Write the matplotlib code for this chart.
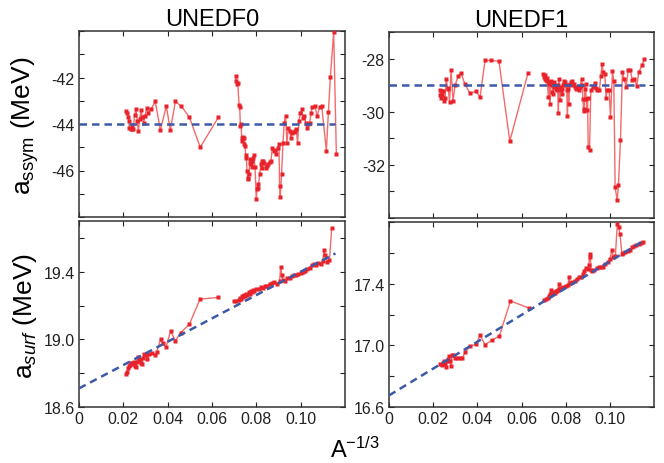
import numpy as np
import matplotlib
matplotlib.use('Agg')
import matplotlib.pyplot as plt
from matplotlib.ticker import FixedLocator, FixedFormatter

plt.rcParams['font.family'] = ['Liberation Sans', 'DejaVu Sans']
plt.rcParams['mathtext.fontset'] = 'custom'
plt.rcParams['mathtext.rm'] = 'Liberation Sans'
plt.rcParams['mathtext.it'] = 'Liberation Sans:italic'

nan = np.nan

# a_ssym, UNEDF0 (two chains, split by nan)
x_ssym0 = [0.0212, 0.0218, 0.0223, 0.0226, 0.0226, 0.0233, 0.0238, 0.0241, 0.0245,
           0.0251, 0.0257, 0.0263, 0.0268, 0.0274, 0.0280, 0.0286, 0.0292, 0.0298,
           0.0305, 0.0313, 0.0325, 0.0344, 0.0367, 0.0394, 0.0412, 0.0435, 0.0462,
           0.0498, 0.0547, 0.0629, nan,
           0.0707, 0.0710, 0.0713, 0.0716, 0.0722, 0.0725, 0.0728, 0.0731, 0.0734,
           0.0737, 0.0740, 0.0743, 0.0746, 0.0749, 0.0752, 0.0755, 0.0758, 0.0761,
           0.0764, 0.0767, 0.0770, 0.0773, 0.0776, 0.0779, 0.0782, 0.0785, 0.0788,
           0.0794, 0.0800, 0.0803, 0.0806, 0.0809, 0.0815, 0.0821, 0.0824, 0.0827,
           0.0830, 0.0836, 0.0842, 0.0848, 0.0854, 0.0860, 0.0866, 0.0872, 0.0878,
           0.0884, 0.0890, 0.0896, 0.0902, 0.0905, 0.0908, 0.0914, 0.0920, 0.0926,
           0.0932, 0.0938, 0.0944, 0.0950, 0.0956, 0.0962, 0.0968, 0.0974, 0.0980,
           0.0986, 0.0992, 0.0999, 0.1005, 0.1011, 0.1017, 0.1023, 0.1029, 0.1035,
           0.1041, 0.1047, 0.1053, 0.1065, 0.1074, 0.1086, 0.1095, 0.1116, 0.1125,
           0.1134, 0.1149, 0.1161]
ssym0 = [-43.44, -43.54, -43.70, -43.87, -44.19, -44.23, -44.20, -44.04, -44.21,
         -43.61, -43.37, -43.87, -44.30, -43.80, -43.41, -43.70, -43.94, -43.66,
         -43.33, -43.51, -43.37, -43.03, -44.26, -43.24, -44.26, -43.03, -43.24,
         -43.71, -45.00, -43.71, nan,
         -42.15, -41.94, -42.29, -42.22, -43.18, -43.27, -44.09, -43.99, -44.59,
         -44.73, -44.56, -44.87, -44.62, -44.95, -45.33, -45.48, -46.02, -46.31,
         -46.38, -46.16, -45.66, -45.52, -45.73, -45.59, -45.85, -45.45, -45.33,
         -45.85, -47.24, -46.81, -46.60, -46.74, -46.16, -45.73, -45.59, -45.88,
         -45.59, -45.66, -45.88, -45.81, -45.71, -45.62, -45.59, -45.02, -45.16,
         -45.13, -45.28, -45.05, -44.85, -46.67, -47.14, -46.16, -44.83, -43.94,
         -43.66, -44.80, -44.16, -44.30, -44.59, -44.37, -44.33, -44.30, -44.23,
         -44.80, -43.87, -43.51, -43.37, -43.76, -43.66, -43.94, -44.16, -44.01,
         -43.94, -43.51, -43.27, -43.23, -43.66, -43.27, -43.23, -45.16, -43.50,
         -41.98, -40.03, -45.30]

# a_ssym, UNEDF1
x_ssym1 = [0.0230, 0.0233, 0.0236, 0.0239, 0.0242, 0.0245, 0.0250, 0.0254, 0.0259,
           0.0265, 0.0269, 0.0274, 0.0281, 0.0290, 0.0299, 0.0313, 0.0326, 0.0344,
           0.0367, 0.0394, 0.0412, 0.0435, 0.0462, 0.0498, 0.0547, 0.0629, nan,
           0.0699, 0.0702, 0.0705, 0.0708, 0.0711, 0.0714, 0.0717, 0.0722, 0.0725,
           0.0728, 0.0731, 0.0734, 0.0737, 0.0740, 0.0743, 0.0746, 0.0749, 0.0752,
           0.0755, 0.0758, 0.0761, 0.0764, 0.0767, 0.0770, 0.0773, 0.0776, 0.0779,
           0.0782, 0.0785, 0.0788, 0.0791, 0.0794, 0.0797, 0.0800, 0.0805, 0.0808,
           0.0811, 0.0814, 0.0817, 0.0820, 0.0823, 0.0827, 0.0832, 0.0836, 0.0842,
           0.0848, 0.0854, 0.0860, 0.0866, 0.0872, 0.0875, 0.0878, 0.0881, 0.0884,
           0.0887, 0.0890, 0.0893, 0.0896, 0.0899, 0.0902, 0.0908, 0.0914, 0.0923,
           0.0932, 0.0938, 0.0944, 0.0953, 0.0959, 0.0965, 0.0970, 0.0977, 0.0983,
           0.0988, 0.0997, 0.1003, 0.1012, 0.1018, 0.1024, 0.1033, 0.1039, 0.1048,
           0.1057, 0.1065, 0.1074, 0.1083, 0.1093, 0.1101, 0.1111, 0.1122, 0.1131,
           0.1146, 0.1156]
ssym1 = [-29.20, -29.38, -29.47, -29.23, -29.36, -29.23, -29.61, -29.48, -28.76,
         -29.11, -29.13, -29.63, -28.44, -29.61, -29.01, -28.67, -28.54, -28.97,
         -29.31, -29.23, -29.46, -28.07, -28.07, -28.10, -31.11, -28.56, nan,
         -28.57, -28.69, -28.78, -28.63, -28.79, -28.73, -28.86, -29.45, -28.94,
         -29.70, -28.88, -28.86, -29.01, -29.26, -29.32, -28.88, -29.07, -28.98,
         -29.13, -29.07, -29.20, -28.98, -30.05, -28.78, -29.57, -29.07, -29.20,
         -29.13, -29.32, -29.01, -28.86, -28.94, -28.88, -29.01, -29.20, -30.17,
         -29.13, -29.70, -29.01, -28.94, -28.88, -28.86, -29.01, -28.94, -29.07,
         -29.13, -29.07, -29.17, -29.07, -28.76, -28.98, -29.53, -29.91, -29.99,
         -29.13, -28.94, -29.51, -29.92, -29.48, -31.33, -31.45, -29.20, -29.07,
         -28.91, -29.11, -29.20, -29.20, -28.66, -28.22, -28.51, -28.57, -29.47,
         -29.20, -29.20, -30.21, -28.48, -28.86, -32.83, -33.34, -32.77, -31.08,
         -28.51, -28.76, -29.07, -28.44, -28.42, -28.79, -28.76, -29.03, -28.51,
         -28.25, -28.03]

# a_surf, UNEDF0
x_surf0 = [0.0213, 0.0218, 0.0222, 0.0226, 0.0230, 0.0234, 0.0239, 0.0243, 0.0248,
           0.0252, 0.0257, 0.0261, 0.0266, 0.0270, 0.0275, 0.0279, 0.0284, 0.0288,
           0.0294, 0.0302, 0.0309, 0.0318, 0.0329, 0.0344, 0.0351, 0.0368, 0.0377,
           0.0393, 0.0413, 0.0435, 0.0459, 0.0498, 0.0546, 0.0628, nan,
           0.0700, 0.0710, 0.0720, 0.0725, 0.0730, 0.0735, 0.0740, 0.0745, 0.0750,
           0.0755, 0.0760, 0.0765, 0.0770, 0.0775, 0.0780, 0.0785, 0.0790, 0.0800,
           0.0810, 0.0820, 0.0830, 0.0840, 0.0850, 0.0860, 0.0870, 0.0880, 0.0895,
           0.0905, 0.0910, 0.0915, 0.0920, 0.0930, 0.0940, 0.0950, 0.0960, 0.0970,
           0.0980, 0.0990, 0.1000, 0.1010, 0.1020, 0.1030, 0.1040, 0.1050, 0.1060,
           0.1070, 0.1080, 0.1090, 0.1100, 0.1105, 0.1110, 0.1120, 0.1130, 0.1140]
surf0 = [18.794, 18.808, 18.828, 18.844, 18.851, 18.859, 18.863, 18.857, 18.867,
         18.844, 18.838, 18.867, 18.897, 18.877, 18.883, 18.861, 18.857, 18.887,
         18.911, 18.907, 18.881, 18.911, 18.917, 18.907, 18.927, 19.000, 18.976,
         18.956, 19.049, 18.992, 19.040, 19.089, 19.238, 19.248, nan,
         19.225, 19.228, 19.235, 19.245, 19.240, 19.255, 19.250, 19.262, 19.255,
         19.270, 19.262, 19.278, 19.270, 19.285, 19.278, 19.292, 19.285, 19.300,
         19.295, 19.310, 19.305, 19.318, 19.315, 19.330, 19.335, 19.338, 19.330,
         19.345, 19.430, 19.380, 19.350, 19.345, 19.360, 19.365, 19.372, 19.380,
         19.378, 19.385, 19.390, 19.400, 19.405, 19.415, 19.425, 19.440, 19.445,
         19.442, 19.450, 19.448, 19.465, 19.530, 19.500, 19.460, 19.470, 19.660]

# a_surf, UNEDF1
x_surf1 = [0.0231, 0.0239, 0.0246, 0.0251, 0.0255, 0.0258, 0.0263, 0.0267, 0.0272,
           0.0276, 0.0281, 0.0285, 0.0291, 0.0299, 0.0309, 0.0322, 0.0332, 0.0346,
           0.0367, 0.0394, 0.0412, 0.0435, 0.0465, 0.0500, 0.0550, 0.0633, nan,
           0.0700, 0.0710, 0.0720, 0.0725, 0.0730, 0.0732, 0.0735, 0.0740, 0.0745,
           0.0750, 0.0755, 0.0760, 0.0765, 0.0770, 0.0772, 0.0780, 0.0790, 0.0800,
           0.0810, 0.0815, 0.0820, 0.0830, 0.0840, 0.0850, 0.0860, 0.0870, 0.0880,
           0.0885, 0.0890, 0.0900, 0.0905, 0.0908, 0.0912, 0.0915, 0.0920, 0.0930,
           0.0940, 0.0950, 0.0960, 0.0970, 0.0980, 0.0990, 0.1000, 0.1010, 0.1015,
           0.1025, 0.1034, 0.1040, 0.1046, 0.1055, 0.1060, 0.1070, 0.1080, 0.1090,
           0.1100, 0.1110, 0.1120, 0.1130, 0.1140, 0.1150]
surf1 = [16.881, 16.875, 16.886, 16.896, 16.881, 16.860, 16.896, 16.909, 16.931,
         16.896, 16.866, 16.935, 16.940, 16.920, 16.918, 16.918, 16.920, 16.957,
         16.996, 17.006, 17.065, 17.005, 17.032, 17.061, 17.288, 17.242, nan,
         17.295, 17.300, 17.310, 17.320, 17.330, 17.360, 17.325, 17.335, 17.345,
         17.340, 17.350, 17.355, 17.360, 17.400, 17.365, 17.370, 17.378, 17.385,
         17.392, 17.440, 17.405, 17.410, 17.420, 17.430, 17.440, 17.445, 17.460,
         17.480, 17.500, 17.495, 17.520, 17.590, 17.570, 17.490, 17.480, 17.490,
         17.500, 17.508, 17.505, 17.510, 17.525, 17.540, 17.560, 17.620, 17.570,
         17.580, 17.790, 17.770, 17.720, 17.590, 17.600, 17.605, 17.610, 17.620,
         17.635, 17.645, 17.650, 17.655, 17.665, 17.670]

# linear fits (intercept, slope) and x range of the fit lines
fit_ssym0 = (-44.0, 0.0)
fit_ssym1 = (-29.0, 0.0)
fit_surf0 = (18.71, 6.9)
fit_surf1 = (16.675, 8.7)
fit_x = [0.0, 0.1157]

titles = ['UNEDF0', 'UNEDF1']
xticks = [0, 0.02, 0.04, 0.06, 0.08, 0.10]
xtick_labels = ['0', '0.02', '0.04', '0.06', '0.08', '0.10']

fig = plt.figure(figsize=(6.64, 4.64), dpi=100)
W, H = 664, 464


def add_ax(x0, y0, x1, y1):
    return fig.add_axes([x0 / W, 1 - y1 / H, (x1 - x0) / W, (y1 - y0) / H])


ax_tl = add_ax(79, 32, 345, 218)
ax_tr = add_ax(389, 33, 654, 219)
ax_bl = add_ax(79, 222, 345, 408)
ax_br = add_ax(389, 223, 654, 408)

panels = [
    (ax_tl, x_ssym0, ssym0, fit_ssym0, (-48, -40), 1, [-46, -44, -42]),
    (ax_tr, x_ssym1, ssym1, fit_ssym1, (-34, -27), 1, [-32, -30, -28]),
    (ax_bl, x_surf0, surf0, fit_surf0, (18.6, 19.7), 0.2, [18.6, 19.0, 19.4]),
    (ax_br, x_surf1, surf1, fit_surf1, (16.6, 17.8), 0.2, [16.6, 17.0, 17.4]),
]

for i, (ax, xs, ys, fit, ylim, ystep, ylab) in enumerate(panels):
    ax.plot(xs, ys, '-', color='#f36b6b', lw=1.0, zorder=2)
    ax.plot(xs, ys, 's', color='#e8222b', markersize=2.8, mec='none', zorder=3)
    fx = np.array(fit_x)
    ax.plot(fx, fit[0] + fit[1] * fx, color='#3d5aa8', lw=1.8,
            linestyle=(0, (3, 2)), zorder=4)
    ax.set_xlim(0, 0.12)
    ax.set_ylim(*ylim)
    ax.xaxis.set_major_locator(FixedLocator(xticks))
    if ystep == 1:
        ticks = np.arange(ylim[0], ylim[1] + 0.5, 1)
        fmt = ['%d' % t if t in ylab else '' for t in ticks]
    else:
        ticks = np.round(np.arange(ylim[0], ylim[1] + 0.01, 0.2), 1)
        fmt = ['%.1f' % t if np.any(np.isclose(t, ylab)) else '' for t in ticks]
    ax.yaxis.set_major_locator(FixedLocator(ticks))
    ax.yaxis.set_major_formatter(FixedFormatter(fmt))
    if i >= 2:
        ax.xaxis.set_major_formatter(FixedFormatter(xtick_labels))
    else:
        ax.set_xticklabels([])
        ax.set_title(titles[i], fontsize=17, pad=4)
    ax.tick_params(direction='in', top=True, right=True, length=3.5, width=0.8,
                   labelsize=11.5, colors='#222222', pad=3)
    for s in ax.spines.values():
        s.set_linewidth(1.1)
        s.set_color('#333333')

fig.text(25 / W, 1 - 126 / H, r'a$_{\mathrm{ssym}}$ (MeV)', rotation=90,
         ha='center', va='center', fontsize=19)
fig.text(25 / W, 1 - 316 / H, r'a$_{surf}$ (MeV)', rotation=90,
         ha='center', va='center', fontsize=19)
fig.text(355 / W, 1 - 450 / H, r'A$^{\mathrm{-1/3}}$', ha='center', va='center',
         fontsize=17)

fig.savefig('out.png', dpi=100)
